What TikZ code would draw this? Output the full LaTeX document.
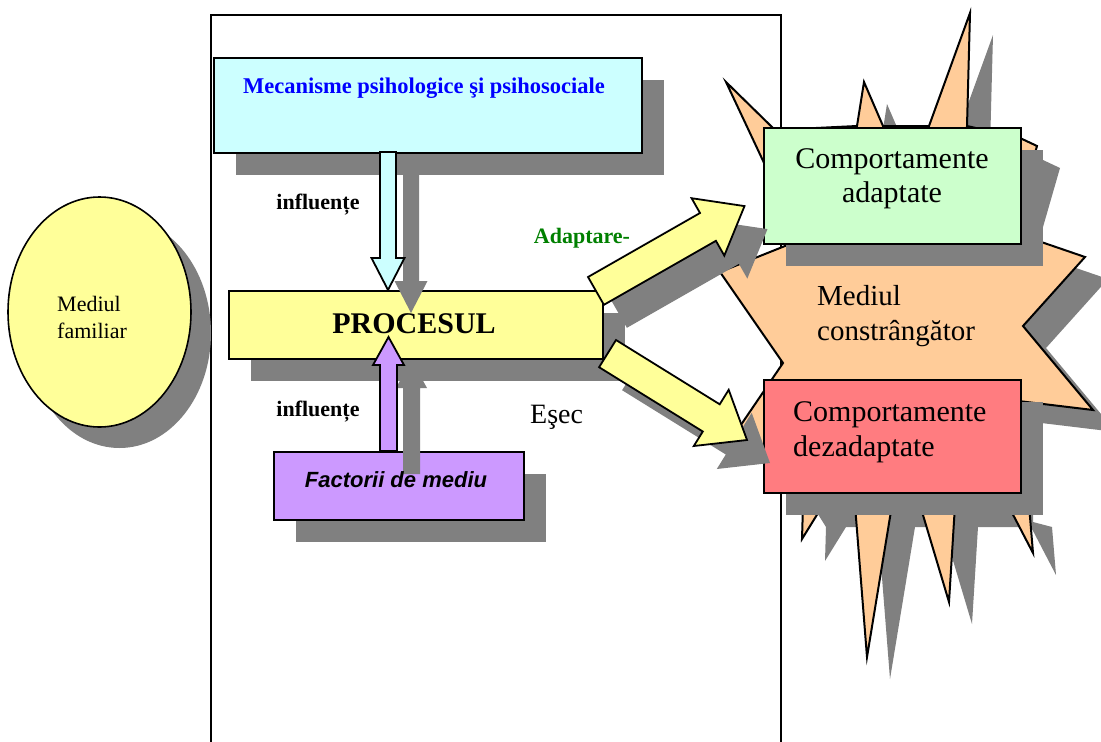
\documentclass[tikz,border=0pt]{standalone}
\usepackage{fontspec}
\setmainfont{Liberation Serif}
\setsansfont{Liberation Sans}
\usetikzlibrary{shapes.geometric}
\definecolor{shadowgray}{HTML}{808080}
\definecolor{cyanbox}{HTML}{CCFFFF}
\definecolor{yel}{HTML}{FFFF99}
\definecolor{lilac}{HTML}{CC99FF}
\definecolor{mint}{HTML}{CCFFCC}
\definecolor{rose}{HTML}{FF7C80}
\definecolor{peach}{HTML}{FFCC99}
\definecolor{bluetxt}{HTML}{0000FF}
\definecolor{greentxt}{HTML}{008000}
\newcommand{\starpoly}[1]{\path[#1] (765,165) -- (726,82) -- (775,130) -- (857,126) -- (864,82) -- (883,126) -- (929,126) -- (970,13) -- (967,126) -- (1020,138) -- (1037,146) -- (1020,205) -- (1015,233) -- (1085,257) -- (1023,326) -- (1093,410) -- (1010,400) -- (1010,500) -- (1029,505) -- (1033,553) -- (1008,505) -- (955,505) -- (949,602) -- (920,505) -- (892,505) -- (867,657) -- (855,505) -- (823,505) -- (802,539) -- (803,505) -- (770,452) -- (732,438) -- (783,363) -- (720,272) -- (800,240) -- cycle;}
\newcommand{\downarr}[1]{\path[#1] (380,152) -- (396,152) -- (396,258) -- (404.5,258) -- (388,290) -- (371.5,258) -- (380,258) -- cycle;}
\newcommand{\uparr}[1]{\path[#1] (380,451) -- (380,365) -- (373,365) -- (388.5,337) -- (404,365) -- (397,365) -- (397,451) -- cycle;}
\newcommand{\arrA}[1]{\path[#1] (588,277) -- (700,213) -- (691.6,198.2) -- (744.5,206.1) -- (724.3,255.6) -- (715.9,240.8) -- (603.9,304.8) -- cycle;}
\newcommand{\arrB}[1]{\path[#1] (616,340) -- (719.7,404.3) -- (728.7,389.8) -- (747,440) -- (693.8,446) -- (702.8,431.5) -- (599.1,367.2) -- cycle;}
\begin{document}
\begin{tikzpicture}[x=1pt,y=-1pt,
  boxe/.style={draw=black, line width=2.2pt, rectangle, inner sep=0pt, anchor=north west},
  shadowfill/.style={fill=shadowgray, draw=none},
  blockarrow/.style={draw=black, line width=1.8pt, line join=miter},
  lbl/.style={inner sep=0pt, anchor=base},
  lblw/.style={inner sep=0pt, anchor=base west},
  big/.style={font=\fontsize{30}{34}\selectfont},
  small/.style={font=\fontsize{22}{26}\selectfont},
  smallbold/.style={font=\bfseries\fontsize{22}{26}\selectfont}]
\useasboundingbox (0,0) rectangle (1101,742);
\fill[white] (0,0) rectangle (1101,742);
% outer frame
\draw[line width=2.5pt] (211,750) -- (211,15) -- (781,15) -- (781,750);
% familiar environment
\fill[shadowgray] (119.5,333) ellipse [x radius=91.5, y radius=115];
\node[ellipse, draw=black, fill=yel, line width=1.6pt, minimum width=183pt, minimum height=230pt, inner sep=0pt] (fam) at (99.5,312) {};
\node[lblw, small] (famA) at (57,311) {Mediul};
\node[lblw, small] (famB) at (57,338) {familiar};
% constraining environment (starburst)
\starpoly{shadowfill, shift={(23,22)}}
\starpoly{fill=peach, draw=black, line width=2pt, line join=miter}
% shadows of boxes
\fill[shadowgray] (236,80) rectangle (664,175);
\fill[shadowgray] (251,313) rectangle (625,381);
\fill[shadowgray] (296,474) rectangle (546,542);
\fill[shadowgray] (786,150) rectangle (1043,266);
\fill[shadowgray] (786,402) rectangle (1043,515);
% boxes
\node[boxe, fill=cyanbox, minimum width=428pt, minimum height=95pt] (mec) at (213,57) {};
\node[boxe, fill=yel, minimum width=374pt, minimum height=68pt] (proc) at (228,290) {};
\node[boxe, fill=lilac, minimum width=250pt, minimum height=68pt] (fac) at (273,451) {};
\node[boxe, fill=mint, minimum width=257pt, minimum height=116pt] (adap) at (763,127) {};
\node[boxe, fill=rose, minimum width=257pt, minimum height=113pt] (dez) at (763,379) {};
% arrows with shadows
\downarr{shadowfill, shift={(23,23)}}
\uparr{shadowfill, shift={(23,23)}}
\arrA{shadowfill, shift={(23,23)}}
\arrB{shadowfill, shift={(23,23)}}
\downarr{blockarrow, fill=cyanbox}
\uparr{blockarrow, fill=lilac}
\arrA{blockarrow, fill=yel}
\arrB{blockarrow, fill=yel}
% texts
\node[lbl, text=bluetxt, font=\bfseries\fontsize{22.5}{26}\selectfont] (mectxt) at (424,93) {Mecanisme psihologice şi psihosociale};
\node[lbl, smallbold] (infl1) at (318,209) {influențe};
\node[lbl, smallbold] (infl2) at (318,416) {influențe};
\node[lbl, font=\bfseries\fontsize{30}{34}\selectfont] (proctxt) at (414,333) {PROCESUL};
\node[lbl, font=\sffamily\bfseries\itshape\fontsize{22}{26}\selectfont] (factxt) at (396,487) {Factorii de mediu};
\node[lbl, smallbold, text=greentxt] (adapt) at (582,243) {Adaptare-};
\node[lblw, font=\fontsize{28}{32}\selectfont] (esec) at (530,423) {Eşec};
\node[lbl, big] (adapA) at (892,168) {Comportamente};
\node[lbl, big] (adapB) at (892,202) {adaptate};
\node[lblw, font=\fontsize{29}{34}\selectfont] (mcA) at (817,305) {Mediul};
\node[lblw, font=\fontsize{29}{34}\selectfont] (mcB) at (817,340) {constrângător};
\node[lblw, big] (dezA) at (793,421) {Comportamente};
\node[lblw, big] (dezB) at (793,456) {dezadaptate};
\end{tikzpicture}
\end{document}
